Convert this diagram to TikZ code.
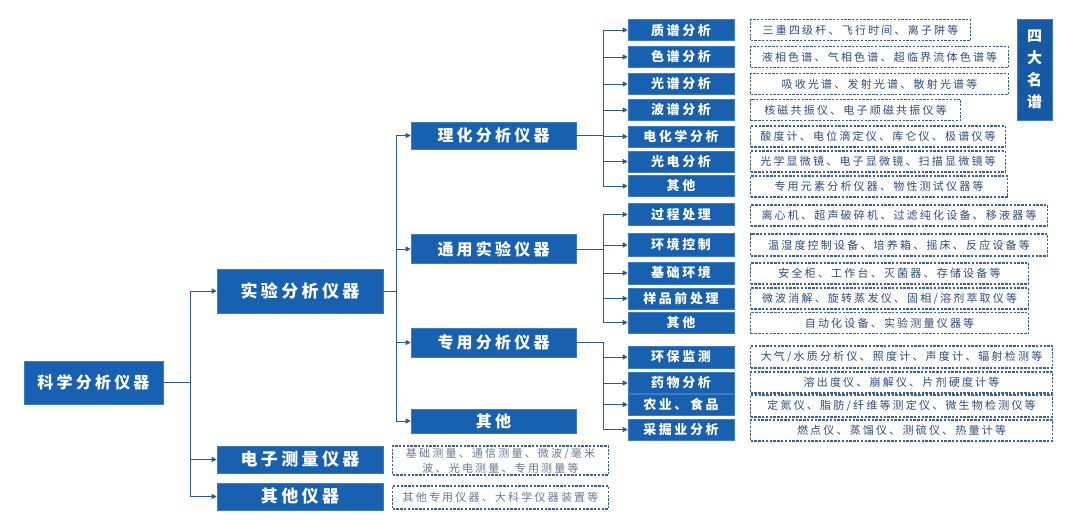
\documentclass[tikz,border=0pt]{standalone}
\usepackage{fontspec}
\setmainfont{Noto Sans CJK SC}[LetterSpace=20]
\usetikzlibrary{arrows.meta}
\definecolor{boxblue}{HTML}{1761B0}
\definecolor{boxedge}{HTML}{3F7DC2}
\definecolor{darkbox}{HTML}{165AA5}
\definecolor{linec}{HTML}{2A5A9E}
\definecolor{dashc}{HTML}{3D5F95}
\definecolor{txtc}{HTML}{2E4C7C}
\definecolor{txtl}{HTML}{6A7890}
\tikzset{
  bbox/.style={rectangle, fill=boxblue, draw=boxedge, line width=0.6pt, text=white, inner sep=0pt},
  lvroot/.style={bbox, minimum width=139pt, minimum height=43pt, font=\bfseries\fontsize{16}{18}\selectfont},
  lvone/.style={bbox, minimum width=166pt, font=\bfseries\fontsize{17}{19}\selectfont},
  lvtwo/.style={bbox, minimum width=165pt, font=\bfseries\fontsize{16}{18}\selectfont},
  lvsub/.style={bbox, minimum width=106pt, minimum height=21pt, font=\bfseries\fontsize{13}{15}\selectfont},
  dbox/.style={rectangle, draw=dashc, line width=1.1pt, dash pattern=on 2.4pt off 1.4pt, fill=white, text=txtc,
               anchor=west, minimum height=21pt, inner sep=0pt, font=\fontsize{11}{13}\selectfont},
  dboxl/.style={dbox, text=txtl, align=center, font=\fontsize{11}{15}\selectfont},
  arr/.style={draw=linec, line width=1pt, -{Triangle[length=5pt,width=5pt]}},
  tag/.style={rectangle, fill=darkbox, draw=boxedge, line width=0.6pt, text=white, inner sep=0pt,
              minimum width=35pt, minimum height=101pt, align=center, font=\bfseries\fontsize{15}{22}\selectfont}
}
\begin{document}
\begin{tikzpicture}[x=1pt,y=-1pt]
\useasboundingbox (0,0) rectangle (1080,520);
% junction columns
\coordinate (j1) at (190,0);
\coordinate (j2) at (396,0);
\coordinate (j3) at (603,0);
% level 0/1
\node[lvroot] (root) at (93.5,382.5) {科学分析仪器};
\node[lvone, minimum height=44pt] (exp) at (300,291) {实验分析仪器};
\node[lvone, minimum height=27pt] (elec) at (300,459.5) {电子测量仪器};
\node[lvone, minimum height=27pt] (othI) at (300,496.5) {其他仪器};
% level 2
\node[lvtwo, minimum height=27pt] (lh) at (493.5,135.5) {理化分析仪器};
\node[lvtwo, minimum height=29pt] (ty) at (493.5,249) {通用实验仪器};
\node[lvtwo, minimum height=29pt] (zy) at (493.5,342.5) {专用分析仪器};
\node[lvtwo, minimum height=24pt] (qt) at (493.5,421) {其他};
% group 1
\node[lvsub] (a1) at (681,30) {质谱分析};
\node[lvsub] (a2) at (681,57) {色谱分析};
\node[lvsub] (a3) at (681,84) {光谱分析};
\node[lvsub] (a4) at (681,110) {波谱分析};
\node[lvsub] (a5) at (681,136.5) {电化学分析};
\node[lvsub] (a6) at (681,161.5) {光电分析};
\node[lvsub] (a7) at (681,186) {其他};
% group 2
\node[lvsub, minimum height=22pt] (b1) at (681,214.5) {过程处理};
\node[lvsub, minimum height=23pt] (b2) at (681,245) {环境控制};
\node[lvsub, minimum height=22pt] (b3) at (681,273) {基础环境};
\node[lvsub, minimum height=21pt] (b4) at (681,298.5) {样品前处理};
\node[lvsub, minimum height=21pt] (b5) at (681,322.5) {其他};
% group 3
\node[lvsub, minimum height=22pt] (c1) at (681,357) {环保监测};
\node[lvsub] (c2) at (681,383) {药物分析};
\node[lvsub] (c3) at (681,404.5) {农业、食品};
\node[lvsub] (c4) at (681,429.5) {采掘业分析};
% dashed descriptions
\node[dbox, minimum width=220pt] (da1) at (750,30) {三重四级杆、飞行时间、离子阱等};
\node[dbox, minimum width=258pt] (da2) at (750,57) {液相色谱、气相色谱、超临界流体色谱等};
\node[dbox, minimum width=258pt] (da3) at (750,84) {吸收光谱、发射光谱、散射光谱等};
\node[dbox, minimum width=210pt] (da4) at (750,110) {核磁共振仪、电子顺磁共振仪等};
\node[dbox, minimum width=255pt] (da5) at (750,136.5) {酸度计、电位滴定仪、库仑仪、极谱仪等};
\node[dbox, minimum width=255pt] (da6) at (750,161.5) {光学显微镜、电子显微镜、扫描显微镜等};
\node[dbox, minimum width=257pt] (da7) at (750,186.5) {专用元素分析仪器、物性测试仪器等};
\node[dbox, minimum width=297pt] (db1) at (750,215.5) {离心机、超声破碎机、过滤纯化设备、移液器等};
\node[dbox, minimum width=297pt, minimum height=22pt] (db2) at (750,245) {温湿度控制设备、培养箱、摇床、反应设备等};
\node[dbox, minimum width=278pt] (db3) at (750,273.5) {安全柜、工作台、灭菌器、存储设备等};
\node[dbox, minimum width=278pt] (db4) at (750,298.5) {微波消解、旋转蒸发仪、固相/溶剂萃取仪等};
\node[dbox, minimum width=278pt] (db5) at (750,323) {自动化设备、实验测量仪器等};
\node[dbox, minimum width=302pt, minimum height=22pt] (dc1) at (750,357) {大气/水质分析仪、照度计、声度计、辐射检测等};
\node[dbox, minimum width=302pt] (dc2) at (750,382.5) {溶出度仪、崩解仪、片剂硬度计等};
\node[dbox, minimum width=302pt, minimum height=22pt] (dc3) at (750,406) {定氮仪、脂肪/纤维等测定仪、微生物检测仪等};
\node[dbox, minimum width=302pt] (dc4) at (750,430.5) {燃点仪、蒸馏仪、测硫仪、热量计等};
\node[dboxl, minimum width=216pt, minimum height=29pt] (de1) at (392,460.5) {基础测量、通信测量、微波/毫米\\波、光电测量、专用测量等};
\node[dboxl, minimum width=216pt, minimum height=23pt] (de2) at (392,497.5) {其他专用仪器、大科学仪器装置等};
% tag
\node[tag] (tag) at (1034.5,69.5) {四\\大\\名\\谱};
% connectors level 0 -> 1
\foreach \t in {exp,elec,othI}
  \draw[arr] (root.east) -- (root.east -| j1) |- (\t.west);
% level 1 -> 2
\foreach \t in {lh,ty,zy,qt}
  \draw[arr] (exp.east) -- (exp.east -| j2) |- (\t.west);
% level 2 -> 3
\foreach \t in {a1,a2,a3,a4,a5,a6,a7}
  \draw[arr] (lh.east) -- (lh.east -| j3) |- (\t.west);
\foreach \t in {b1,b2,b3,b4,b5}
  \draw[arr] (ty.east) -- (ty.east -| j3) |- (\t.west);
\foreach \t in {c1,c2,c3,c4}
  \draw[arr] (zy.east) -- (zy.east -| j3) |- (\t.west);
\end{tikzpicture}
\end{document}
